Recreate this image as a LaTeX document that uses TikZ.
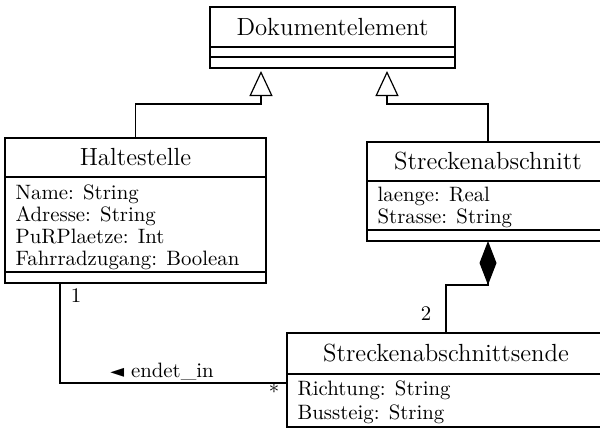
\documentclass[tikz,border=0pt]{standalone}
\usepackage{fontspec}
\newfontfamily\djv{DejaVu Sans}
\usetikzlibrary{arrows.meta,calc}
\begin{document}
\begin{tikzpicture}[x=0.5pt,y=-0.5pt,
  line width=0.6pt,
  box/.style={draw, rectangle, inner sep=0pt, outer sep=0pt},
  ctitle/.style={inner sep=0pt, font=\fontsize{12.4}{14}\selectfont},
  attrs/.style={inner sep=0pt, anchor=north west, align=left, font=\fontsize{10.4}{11}\selectfont},
  lbl/.style={inner sep=0pt, font=\fontsize{10.4}{12}\selectfont},
  inh/.style={-{Triangle[open,width=11.5pt,length=12.5pt]}, shorten >=1.5pt},
  comp/.style={-{Diamond[width=8.5pt,length=22pt]}},
  assoc/.style={}]
\useasboundingbox (0,0) rectangle (600,428);
\clip (0,0) rectangle (600,428);

% Dokumentelement
\node[box, minimum width=122.5pt, minimum height=30.5pt] (doc) at (332.5,37.5) {};
\draw (doc.west |- 0,47) -- (doc.east |- 0,47);
\draw (doc.west |- 0,57) -- (doc.east |- 0,57);
\node[ctitle] (doct) at (332.5,27) {Dokumentelement};

% Haltestelle
\node[box, minimum width=130.5pt, minimum height=72.5pt] (hs) at (135.5,210.5) {};
\draw (hs.west |- 0,177) -- (hs.east |- 0,177);
\draw (hs.west |- 0,272) -- (hs.east |- 0,272);
\node[ctitle] (hst) at (135.5,157.5) {Haltestelle};
\node[attrs] (hsa) at (15,184) {Name: String\\Adresse: String\\PuRPlaetze: Int\\Fahrradzugang: Boolean};

% Streckenabschnitt
\node[box, minimum width=121pt, minimum height=49.5pt] (sa) at (488,191.5) {};
\draw (sa.west |- 0,181) -- (sa.east |- 0,181);
\draw (sa.west |- 0,230) -- (sa.east |- 0,230);
\node[ctitle] (sat) at (488,161.5) {Streckenabschnitt};
\node[attrs] (saa) at (377,186) {laenge: Real\\Strasse: String};

% Streckenabschnittsende
\node[box, minimum width=159pt, minimum height=52.5pt] (sae) at (446,385.5) {};
\draw (sae.west |- 0,374) -- (sae.east |- 0,374);
\draw (sae.west |- 0,427) -- (sae.east |- 0,427);
\node[ctitle] (saet) at (446,353.5) {Streckenabschnittsende};
\node[attrs, font=\fontsize{10.4}{12}\selectfont] (saea) at (297,380) {Richtung: String\\Bussteig: String};

% connector end points
\coordinate (d1) at (261,68);
\coordinate (d2) at (387,68);
\coordinate (h1) at (60,283);
\coordinate (s1) at (287,383);

% inheritance
\draw[inh] (hs.north) -- ++(0,-34) -| (d1);
\draw[inh] (sa.north) -- ++(0,-38) -| (d2);

% composition
\draw[comp] (sae.north) |- ($(sa.south)+(0,44)$) -- (sa.south);

% association
\draw[assoc] (h1) |- (s1);

% labels
\node[lbl] (m1) at (76,296) {1};
\node[lbl] (m2) at (426,314) {2};
\node[lbl] (mst) at (274,392) {*};
\node[lbl, anchor=base] (en) at (162,377) {{\djv\fontsize{9}{10}\selectfont ◄} endet\_in};
\end{tikzpicture}
\end{document}
